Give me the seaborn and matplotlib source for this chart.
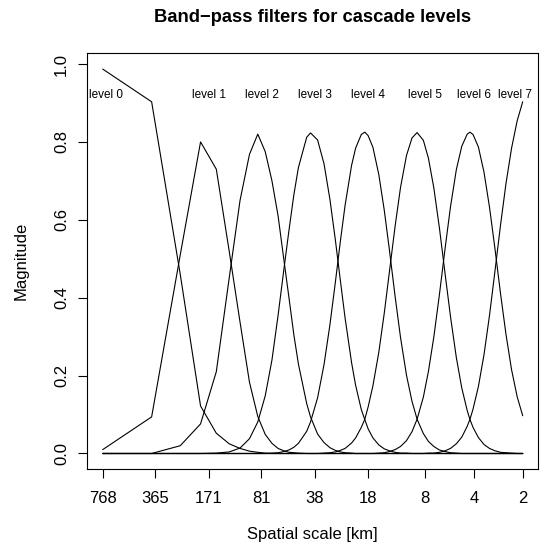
import matplotlib
matplotlib.use("Agg")
import matplotlib.pyplot as plt
from matplotlib.ticker import NullLocator, FixedLocator, FixedFormatter
import seaborn as sns
import pandas as pd

# ---------------- data ----------------
domain_km = 768
wavenumber = [1, 2, 3, 4, 5, 6, 7, 8, 9, 10, 11, 12, 13, 14, 15, 16, 18, 19, 21, 23,
              25, 27, 29, 31, 34, 36, 39, 41, 43, 46, 50, 54, 58, 63, 68, 74, 80, 86,
              94, 101, 109, 118, 128, 138, 150, 162, 175, 182, 190, 205, 222, 240, 259,
              281, 303, 328, 355, 384]

level0 = [0.987, 0.903, 0.46, 0.122, 0.052, 0.025, 0.013, 0.006, 0.003, 0.001] + [0.0] * 48
level1 = [0.010, 0.094, 0.51, 0.80, 0.73, 0.52, 0.337, 0.183, 0.095, 0.049, 0.026,
          0.013, 0.007, 0.003, 0.002, 0.001] + [0.0] * 42
level2 = [0.0, 0.0, 0.02, 0.076, 0.21, 0.45, 0.65, 0.768, 0.82, 0.775, 0.70, 0.61,
          0.50, 0.40, 0.305, 0.23, 0.128, 0.094, 0.05, 0.028, 0.015, 0.008, 0.004,
          0.002, 0.001] + [0.0] * 33
level3 = [0.0] * 4 + [0.001, 0.004, 0.014, 0.038, 0.081, 0.148, 0.240, 0.355, 0.47,
                      0.573, 0.664, 0.734, 0.812, 0.823, 0.805, 0.744, 0.653, 0.549,
                      0.444, 0.348, 0.233, 0.175, 0.113, 0.087, 0.063, 0.040, 0.022,
                      0.012, 0.007, 0.003, 0.001, 0.001] + [0.0] * 22
level4 = [0.0] * 10 + [0.001, 0.002, 0.005, 0.009, 0.016, 0.026, 0.057, 0.081, 0.143,
                       0.228, 0.330, 0.439, 0.545, 0.637, 0.740, 0.784, 0.819, 0.825,
                       0.816, 0.786, 0.716, 0.625, 0.525, 0.403, 0.298, 0.201, 0.134,
                       0.088, 0.051, 0.031, 0.018, 0.009, 0.005, 0.002, 0.001] + [0.0] * 13
level5 = [0.0] * 19 + [0.001, 0.002, 0.004, 0.008, 0.013, 0.027, 0.040, 0.067, 0.088,
                       0.120, 0.174, 0.260, 0.360, 0.464, 0.584, 0.683, 0.765, 0.810,
                       0.824, 0.804, 0.758, 0.682, 0.579, 0.460, 0.352, 0.246, 0.168,
                       0.110, 0.087, 0.067, 0.041, 0.023, 0.013, 0.007, 0.003, 0.002,
                       0.001] + [0.0] * 2
level6 = [0.0] * 30 + [0.001, 0.002, 0.005, 0.010, 0.018, 0.033, 0.056, 0.088, 0.145,
                       0.211, 0.299, 0.408, 0.528, 0.633, 0.729, 0.789, 0.820, 0.825,
                       0.819, 0.787, 0.722, 0.632, 0.527, 0.408, 0.306, 0.215, 0.146,
                       0.097]
level7 = [0.0] * 39 + [0.001, 0.001, 0.003, 0.007, 0.013, 0.025, 0.042, 0.070, 0.088,
                       0.114, 0.172, 0.254, 0.355, 0.467, 0.589, 0.693, 0.784, 0.854,
                       0.903]

levels = [level0, level1, level2, level3, level4, level5, level6, level7]
level_names = ["level 0", "level 1", "level 2", "level 3", "level 4",
               "level 5", "level 6", "level 7"]
tick_scales = [768, 365, 171, 81, 38, 18, 8, 4, 2]
tick_labels = ["768", "365", "171", "81", "38", "18", "8", "4", "2"]
y_ticks = [0.0, 0.2, 0.4, 0.6, 0.8, 1.0]
y_tick_labels = ["0.0", "0.2", "0.4", "0.6", "0.8", "1.0"]

# label placement (layout, not data)
label_x_km = [730, 171, 81, 38, 18, 8, 4, 2.245]
label_y = 0.92

for vals in levels:
    assert len(vals) == len(wavenumber)

# ---------------- table for seaborn ----------------
rows = []
for name, vals in zip(level_names, levels):
    for k, v in zip(wavenumber, vals):
        rows.append({"scale": domain_km / k, "magnitude": v, "level": name})
df = pd.DataFrame(rows)

# ---------------- plot ----------------
sns.set_theme(style="white")
plt.rcParams["font.family"] = ["Liberation Sans", "DejaVu Sans"]
plt.rcParams["axes.unicode_minus"] = True

fig = plt.figure(figsize=(5.4, 5.45), dpi=100)
ax = fig.add_axes([86.7 / 540, 1 - 469 / 545, (537.7 - 86.7) / 540, (469 - 53.3) / 545])

sns.lineplot(data=df, x="scale", y="magnitude", units="level", estimator=None,
             sort=False, color="black", linewidth=0.8, ax=ax, legend=False)

ax.set_xscale("log")
ax.set_xlim(963.6, 1.617)
ax.set_ylim(-0.0398, 1.0275)

ax.xaxis.set_major_locator(FixedLocator(tick_scales))
ax.xaxis.set_major_formatter(FixedFormatter(tick_labels))
ax.xaxis.set_minor_locator(NullLocator())
ax.yaxis.set_major_locator(FixedLocator(y_ticks))
ax.yaxis.set_major_formatter(FixedFormatter(y_tick_labels))
ax.yaxis.set_minor_locator(NullLocator())

ax.tick_params(axis="both", which="major", direction="out", length=6.5, width=0.8,
               colors="black", labelsize=12, bottom=True, left=True, top=False, right=False)
ax.tick_params(axis="x", pad=9)
ax.tick_params(axis="y", pad=6.3)
for lab in ax.get_yticklabels():
    lab.set_rotation(90)
    lab.set_va("center")

for sp in ax.spines.values():
    sp.set_visible(True)
    sp.set_color("black")
    sp.set_linewidth(0.8)

ax.set_xlabel("Spatial scale [km]", fontsize=12, color="black")
ax.xaxis.label.set_va("center")
ax.xaxis.set_label_coords(0.5, -(534 - 469) / 415.7)
ax.set_ylabel("Magnitude", fontsize=12, color="black")
ax.yaxis.label.set_va("center")
ax.yaxis.set_label_coords(-(86.7 - 21.5) / 451.0, 0.5)

ax.set_title("Band\u2212pass filters for cascade levels", fontsize=13.2,
             fontweight="bold", pad=22.3, color="black")

for name, xk in zip(level_names, label_x_km):
    ax.text(xk, label_y, name, fontsize=8.5, ha="center", va="center", color="black")

ax.grid(False)
fig.savefig("out.png", dpi=100, facecolor="white")
